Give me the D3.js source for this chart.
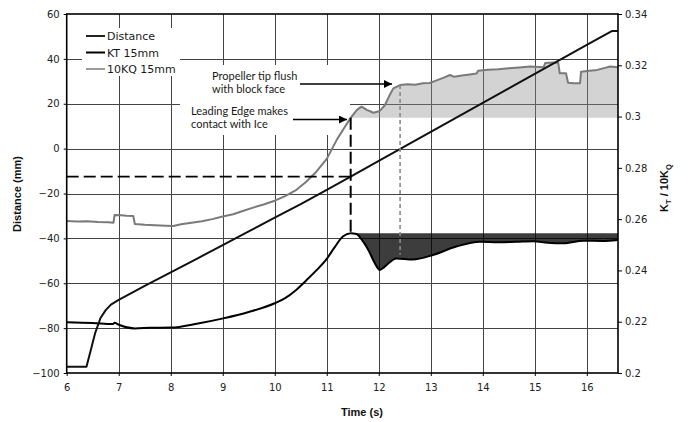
<!DOCTYPE html>
<html>
<head>
<meta charset="utf-8">
<script src="https://cdn.jsdelivr.net/npm/d3@7"></script>
<style>
  body { margin: 0; background: #fff; }
  svg { display: block; }
</style>
</head>
<body>
<svg id="chart" width="690" height="422"></svg>
<script>
// ---- Data -----------------------------------------------------------------
// Block position (mm) against time (s)
const distTime = [6.00, 6.38, 6.45, 6.55, 6.65, 6.75, 6.85, 7.00, 7.50, 8.00, 8.50, 9.00, 9.50,
                  10.00, 10.50, 11.00, 11.46, 12.00, 12.50, 13.00, 13.50, 14.00, 14.50, 15.00,
                  15.50, 16.00, 16.48, 16.60];
const distance = [-97.2, -97.2, -91.0, -82.0, -75.5, -72.0, -69.5, -67.4, -61.2, -55.2, -49.1,
                  -43.0, -36.9, -30.8, -24.7, -18.4, -12.5, -5.5, 1.0, 7.5, 13.9, 20.4, 26.8,
                  33.3, 39.8, 46.2, 52.4, 52.4];

// Thrust coefficient KT, 15 mm
const ktTime = [6.00, 6.50, 6.89, 6.92, 7.00, 7.31, 7.60, 8.01, 8.50, 9.01, 9.50, 10.00, 10.20,
                10.40, 10.60, 10.80, 11.00, 11.15, 11.31, 11.46, 11.57, 11.70, 11.80, 11.92, 12.02,
                12.10, 12.15, 12.34, 12.65, 13.04, 13.49, 13.94, 14.30, 14.65, 14.97, 15.25,
                15.55, 15.93, 16.30, 16.60];
const kt = [0.2198, 0.2195, 0.2191, 0.2196, 0.2188, 0.2174, 0.2176, 0.2177, 0.2192, 0.2213,
            0.2238, 0.2272, 0.2292, 0.2322, 0.2360, 0.2400, 0.2445, 0.2490, 0.2532, 0.2545,
            0.2542, 0.2512, 0.2480, 0.2430, 0.2402, 0.2412, 0.2421, 0.2447, 0.2443, 0.2460,
            0.2493, 0.2512, 0.2510, 0.2512, 0.2514, 0.2508, 0.2506, 0.2516, 0.2515, 0.2519];

// Torque coefficient 10KQ, 15 mm
const kqTime = [6.00, 6.20, 6.40, 6.60, 6.80, 6.90, 6.92, 7.05, 7.15, 7.28, 7.31, 7.50, 7.70,
                7.90, 8.05, 8.20, 8.40, 8.60, 8.80, 9.00, 9.20, 9.40, 9.60, 9.80, 10.00, 10.20,
                10.40, 10.60, 10.80, 11.00, 11.20, 11.35, 11.46, 11.58, 11.67, 11.77, 11.90,
                12.02, 12.12, 12.20, 12.28, 12.41, 12.55, 12.70, 12.85, 12.98, 13.10, 13.25,
                13.37, 13.45, 13.60, 13.75, 13.88, 13.91, 14.10, 14.30, 14.50, 14.70, 14.91,
                15.10, 15.17, 15.20, 15.35, 15.45, 15.48, 15.60, 15.64, 15.75, 15.87, 15.89,
                16.05, 16.20, 16.35, 16.45, 16.60];
const kq = [0.2593, 0.2591, 0.2592, 0.2589, 0.2588, 0.2586, 0.2616, 0.2615, 0.2613, 0.2612,
            0.2581, 0.2578, 0.2576, 0.2574, 0.2573, 0.2580, 0.2586, 0.2592, 0.2600, 0.2610,
            0.2619, 0.2633, 0.2646, 0.2658, 0.2672, 0.2690, 0.2712, 0.2745, 0.2785, 0.2835,
            0.2912, 0.2960, 0.2995, 0.3026, 0.3039, 0.3026, 0.3015, 0.3022, 0.3045, 0.3080,
            0.3110, 0.3123, 0.3126, 0.3124, 0.3130, 0.3131, 0.3140, 0.3152, 0.3162, 0.3155,
            0.3160, 0.3164, 0.3168, 0.3179, 0.3183, 0.3185, 0.3188, 0.3191, 0.3195, 0.3193,
            0.3192, 0.3209, 0.3211, 0.3210, 0.3169, 0.3169, 0.3132, 0.3130, 0.3130, 0.3175,
            0.3179, 0.3182, 0.3190, 0.3195, 0.3192];

// Events
const contactTime = 11.46;   // leading edge touches the ice
const flushTime = 12.41;     // propeller tip flush with block face

// Axes
const timeTicks = [6, 7, 8, 9, 10, 11, 12, 13, 14, 15, 16];
const distTicks = [-100, -80, -60, -40, -20, 0, 20, 40, 60];
const coefTicks = [0.2, 0.22, 0.24, 0.26, 0.28, 0.3, 0.32, 0.34];
const legendLabels = ["Distance", "KT 15mm", "10KQ 15mm"];

// ---- Layout ----------------------------------------------------------------
const plot = { left: 66.7, right: 618, top: 14, bottom: 373 };
const svg = d3.select("#chart");

const x = d3.scaleLinear().domain([6, 16.6]).range([plot.left, plot.right]);
const yL = d3.scaleLinear().domain([-100, 60]).range([plot.bottom, plot.top]);
const yR = d3.scaleLinear().domain([0.2, 0.34]).range([plot.bottom, plot.top]);

const gridColor = "#444";
const tickFont = "'DejaVu Sans', Verdana, sans-serif";

function valueAt(ts, vs, t) {
  const i = d3.bisectRight(ts, t);
  if (i <= 0) return vs[0];
  if (i >= ts.length) return vs[vs.length - 1];
  const f = (t - ts[i - 1]) / (ts[i] - ts[i - 1]);
  return vs[i - 1] + f * (vs[i] - vs[i - 1]);
}
const zip = (ts, vs) => ts.map((t, i) => [t, vs[i]]);

// ---- Gridlines ------------------------------------------------------------
const grid = svg.append("g").attr("stroke", gridColor).attr("stroke-width", 1);
grid.selectAll("line.h").data(distTicks.slice(1, -1)).join("line")
  .attr("x1", plot.left).attr("x2", plot.right)
  .attr("y1", d => Math.round(yL(d)) + 0.5).attr("y2", d => Math.round(yL(d)) + 0.5);
grid.selectAll("line.v").data(timeTicks.slice(1)).join("line")
  .attr("y1", plot.top).attr("y2", plot.bottom)
  .attr("x1", d => Math.round(x(d)) + 0.5).attr("x2", d => Math.round(x(d)) + 0.5);

// Opaque backgrounds behind the legend and the callout text
const boxes = svg.append("g").attr("fill", "#fff");
boxes.append("rect").attr("x", 82).attr("y", 28).attr("width", 98).attr("height", 48);
boxes.append("rect").attr("x", 205).attr("y", 65).attr("width", 167).attr("height", 35);
boxes.append("rect").attr("x", 180).attr("y", 100).attr("width", 170).attr("height", 35);

// ---- Shaded regions after contact -----------------------------------------
const kqBase = valueAt(kqTime, kq, contactTime);
const kqAfter = [[contactTime, kqBase]].concat(zip(kqTime, kq).filter(d => d[0] > contactTime));
svg.append("path")
  .datum(kqAfter)
  .attr("fill", "#8c8c8c").attr("fill-opacity", 0.38)
  .attr("d", d3.area().x(d => x(d[0])).y0(yR(kqBase)).y1(d => yR(d[1])));

const ktTop = valueAt(ktTime, kt, contactTime);
const ktAfter = [[contactTime, ktTop]].concat(zip(ktTime, kt).filter(d => d[0] > contactTime));
svg.append("path")
  .datum(ktAfter)
  .attr("fill", "#000").attr("fill-opacity", 0.76)
  .attr("d", d3.area().curve(d3.curveMonotoneX).x(d => x(d[0])).y0(yR(ktTop)).y1(d => yR(d[1])));

// ---- Series ---------------------------------------------------------------
const lineR = d3.line().x(d => x(d[0])).y(d => yR(d[1]));
const lineL = d3.line().x(d => x(d[0])).y(d => yL(d[1]));

svg.append("path").datum(zip(kqTime, kq))
  .attr("fill", "none").attr("stroke", "#7a7a7a").attr("stroke-width", 2)
  .attr("stroke-linejoin", "round").attr("d", lineR);
svg.append("path").datum(zip(ktTime, kt))
  .attr("fill", "none").attr("stroke", "#000").attr("stroke-width", 2)
  .attr("stroke-linejoin", "round").attr("d", lineR.curve(d3.curveMonotoneX));
svg.append("path").datum(zip(distTime, distance))
  .attr("fill", "none").attr("stroke", "#111").attr("stroke-width", 2)
  .attr("stroke-linejoin", "round").attr("d", lineL);

// ---- Event markers --------------------------------------------------------
const contactDist = valueAt(distTime, distance, contactTime);
svg.append("line")
  .attr("x1", x(6)).attr("x2", x(contactTime))
  .attr("y1", yL(contactDist)).attr("y2", yL(contactDist))
  .attr("stroke", "#000").attr("stroke-width", 1.6).attr("stroke-dasharray", "12,5");
svg.append("line")
  .attr("x1", x(contactTime)).attr("x2", x(contactTime))
  .attr("y1", yR(kqBase)).attr("y2", yR(ktTop))
  .attr("stroke", "#000").attr("stroke-width", 2).attr("stroke-dasharray", "12,5");
svg.append("line")
  .attr("x1", x(flushTime)).attr("x2", x(flushTime))
  .attr("y1", yR(valueAt(kqTime, kq, flushTime))).attr("y2", yR(valueAt(ktTime, kt, flushTime)) - 4)
  .attr("stroke", "#8a8a8a").attr("stroke-width", 1.6).attr("stroke-dasharray", "4,3");

// ---- Callouts -------------------------------------------------------------
const defs = svg.append("defs");
defs.append("marker").attr("id", "arrow")
  .attr("viewBox", "0 0 10 10").attr("refX", 10).attr("refY", 5)
  .attr("markerWidth", 10).attr("markerHeight", 8).attr("markerUnits", "userSpaceOnUse")
  .attr("orient", "auto")
  .append("path").attr("d", "M0,0 L10,5 L0,10 Z").attr("fill", "#000");

svg.append("line").attr("x1", 300).attr("x2", 392).attr("y1", 84).attr("y2", 84)
  .attr("stroke", "#000").attr("stroke-width", 1.5).attr("marker-end", "url(#arrow)");
svg.append("line").attr("x1", 293).attr("x2", 347).attr("y1", 119.5).attr("y2", 119.5)
  .attr("stroke", "#000").attr("stroke-width", 1.5).attr("marker-end", "url(#arrow)");

const calloutFont = "Lato, 'Open Sans', sans-serif";
const callouts = [
  { x: 212, y: 80, lines: ["Propeller tip flush", "with block face"] },
  { x: 191, y: 115, lines: ["Leading Edge makes", "contact with Ice"] }
];
callouts.forEach(c => {
  const t = svg.append("text").attr("x", c.x).attr("y", c.y)
    .attr("font-family", calloutFont).attr("font-size", 11).attr("fill", "#1a1a1a");
  c.lines.forEach((s, i) => t.append("tspan").attr("x", c.x).attr("dy", i ? 13 : 0).text(s));
});

// ---- Axes -----------------------------------------------------------------
function styleAxis(g) {
  g.select(".domain").remove();
  g.selectAll(".tick line").attr("stroke", "#000");
  g.selectAll(".tick text").attr("font-family", tickFont).attr("font-size", 10).attr("fill", "#222");
}
svg.append("g").attr("transform", `translate(${plot.left},0)`)
  .call(d3.axisLeft(yL).tickValues(distTicks).tickSize(3).tickPadding(4))
  .call(styleAxis);
svg.append("g").attr("transform", `translate(${plot.right},0)`)
  .call(d3.axisRight(yR).tickValues(coefTicks).tickSize(4).tickPadding(3)
    .tickFormat(d => String(+d.toFixed(2))))
  .call(styleAxis);
svg.append("g").attr("transform", `translate(0,${plot.bottom})`)
  .call(d3.axisBottom(x).tickValues(timeTicks).tickSize(3).tickPadding(8).tickFormat(d3.format("d")))
  .call(styleAxis);

// Plot frame
svg.append("rect")
  .attr("x", plot.left).attr("y", plot.top)
  .attr("width", plot.right - plot.left).attr("height", plot.bottom - plot.top)
  .attr("fill", "none").attr("stroke", "#000").attr("stroke-width", 1.6);

// Axis titles
const titleFont = "'Liberation Sans', Arial, sans-serif";
svg.append("text").attr("x", 362).attr("y", 416).attr("text-anchor", "middle")
  .attr("font-family", titleFont).attr("font-weight", "bold").attr("font-size", 11)
  .attr("fill", "#111").text("Time (s)");
svg.append("text").attr("transform", "translate(21,194) rotate(-90)").attr("text-anchor", "middle")
  .attr("font-family", titleFont).attr("font-weight", "bold").attr("font-size", 11)
  .attr("fill", "#111").text("Distance (mm)");
const rt = svg.append("text").attr("transform", "translate(668,188) rotate(-90)").attr("text-anchor", "middle")
  .attr("font-family", titleFont).attr("font-weight", "bold").attr("font-size", 11).attr("fill", "#111");
rt.append("tspan").text("K");
rt.append("tspan").attr("dy", 3).attr("font-size", 7.5).text("T");
rt.append("tspan").attr("dy", -3).text(" / 10K");
rt.append("tspan").attr("dy", 3).attr("font-size", 7.5).text("Q");

// ---- Legend ---------------------------------------------------------------
const legendStyles = [
  { color: "#222", width: 2 },
  { color: "#000", width: 2 },
  { color: "#7a7a7a", width: 1.5 }
];
const legend = svg.append("g");
legendLabels.forEach((label, i) => {
  const cy = 36 + i * 16.5;
  legend.append("line").attr("x1", 86).attr("x2", 105).attr("y1", cy).attr("y2", cy)
    .attr("stroke", legendStyles[i].color).attr("stroke-width", legendStyles[i].width);
  legend.append("text").attr("x", 107).attr("y", cy + 4)
    .attr("font-family", tickFont).attr("font-size", 11).attr("fill", "#1a1a1a").text(label);
});
</script>
</body>
</html>
